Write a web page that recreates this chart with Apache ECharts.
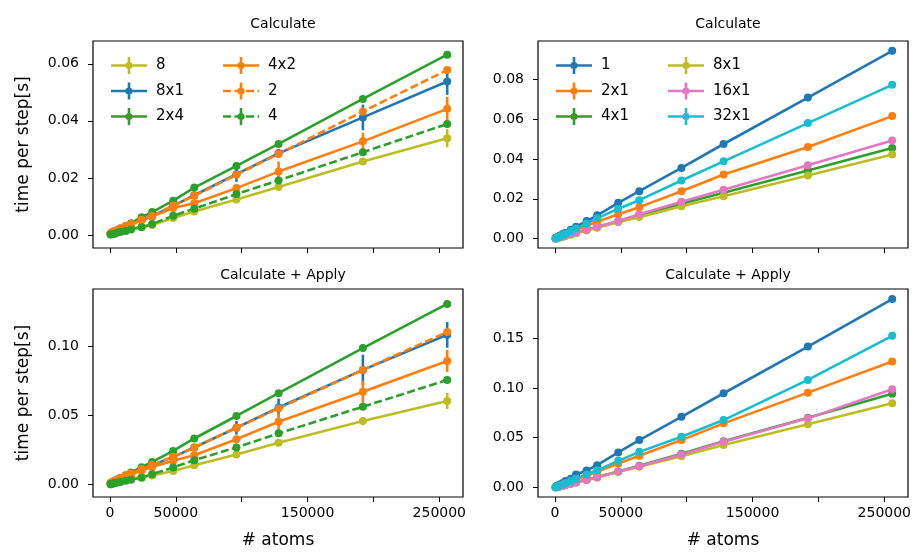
<!DOCTYPE html>
<html><head><meta charset="utf-8">
<script src="https://cdn.jsdelivr.net/npm/echarts@6/dist/echarts.min.js"></script>
<style>html,body{margin:0;padding:0;background:#fff}#c{width:916px;height:554px}</style>
</head><body><div id="c"></div>
<script>
// ---------- data ----------
const atoms = [500, 1000, 2000, 3000, 4000, 6000, 8000, 12000, 16000, 24000, 32000, 48000, 64000, 96000, 128000, 192000, 256000];
const xTicks = [0, 50000, 100000, 150000, 200000, 250000];
const xTickLabels = [0, 50000, 150000, 250000];

// Left column, "Calculate"
const calcL_names = ['8', '8x1', '2x4', '4x2', '2', '4'];
const calcL_8   = [0.0002,0.0003,0.0005,0.0006,0.0008,0.0011,0.0013,0.0018,0.0022,0.0028,0.0035,0.0059,0.0082,0.0124,0.0168,0.0257,0.0339];
const calcL_8x1 = [0.0004,0.0006,0.0008,0.0010,0.0012,0.0016,0.0020,0.0028,0.0036,0.0052,0.0066,0.0102,0.0139,0.0213,0.0286,0.0412,0.0538];
const calcL_2x4 = [0.0003,0.0005,0.0008,0.0010,0.0013,0.0018,0.0022,0.0031,0.0041,0.0062,0.0080,0.0120,0.0166,0.0242,0.0319,0.0477,0.0632];
const calcL_4x2 = [0.0005,0.0007,0.0010,0.0012,0.0014,0.0018,0.0022,0.0030,0.0037,0.0052,0.0064,0.0094,0.0111,0.0164,0.0222,0.0328,0.0442];
const calcL_2   = [0.0005,0.0007,0.0010,0.0012,0.0014,0.0018,0.0022,0.0030,0.0038,0.0053,0.0066,0.0103,0.0137,0.0211,0.0284,0.0433,0.0578];
const calcL_4   = [0.0001,0.0002,0.0003,0.0004,0.0005,0.0008,0.0010,0.0014,0.0019,0.0027,0.0038,0.0067,0.0092,0.0143,0.0191,0.0290,0.0389];
const calcLErr_8   = [0,0,0,0,0,0,0,0,0,0.0001,0.0001,0.0002,0.0003,0.0004,0.0006,0.0012,0.0032];
const calcLErr_8x1 = [0,0,0,0,0,0,0,0,0,0.0001,0.0002,0.0003,0.0008,0.0027,0.0015,0.0045,0.0047];
const calcLErr_2x4 = [0,0,0,0,0,0,0,0,0,0,0.0001,0.0002,0.0002,0.0003,0.0003,0.0004,0.0005];
const calcLErr_4x2 = [0,0,0,0,0,0,0,0,0,0.0001,0.0002,0.0003,0.0005,0.0015,0.0035,0.0030,0.0042];
const calcLErr_2   = [0,0,0,0,0,0,0,0,0,0,0.0001,0.0002,0.0002,0.0003,0.0003,0.0005,0.0008];
const calcLErr_4   = [0,0,0,0,0,0,0,0,0,0,0.0001,0.0001,0.0002,0.0002,0.0003,0.0004,0.0005];

// Left column, "Calculate + Apply"
const applyL_8   = [0.0003,0.0005,0.0008,0.0011,0.0014,0.0019,0.0024,0.0034,0.0043,0.0055,0.0066,0.0099,0.0140,0.0218,0.0303,0.0460,0.0606];
const applyL_8x1 = [0.0008,0.0012,0.0018,0.0023,0.0028,0.0037,0.0045,0.0062,0.0078,0.0110,0.0140,0.0201,0.0269,0.0412,0.0558,0.0831,0.1085];
const applyL_2x4 = [0.0007,0.0011,0.0017,0.0022,0.0028,0.0039,0.0049,0.0068,0.0088,0.0126,0.0164,0.0244,0.0334,0.0497,0.0662,0.0989,0.1309];
const applyL_4x2 = [0.0010,0.0014,0.0019,0.0023,0.0027,0.0035,0.0043,0.0058,0.0073,0.0102,0.0128,0.0172,0.0213,0.0329,0.0455,0.0673,0.0896];
const applyL_2   = [0.0009,0.0013,0.0019,0.0024,0.0029,0.0038,0.0047,0.0064,0.0080,0.0112,0.0142,0.0201,0.0269,0.0412,0.0552,0.0831,0.1105];
const applyL_4   = [0.0003,0.0005,0.0007,0.0009,0.0011,0.0015,0.0019,0.0027,0.0035,0.0050,0.0075,0.0124,0.0177,0.0269,0.0371,0.0564,0.0758];
const applyLErr_8   = [0,0,0,0,0,0,0,0,0,0.0001,0.0002,0.0003,0.0004,0.0006,0.0010,0.0030,0.0058];
const applyLErr_8x1 = [0,0,0,0,0,0,0,0,0,0.0002,0.0003,0.0005,0.0010,0.0050,0.0065,0.0110,0.0094];
const applyLErr_2x4 = [0,0,0,0,0,0,0,0,0,0.0001,0.0002,0.0003,0.0004,0.0005,0.0006,0.0008,0.0010];
const applyLErr_4x2 = [0,0,0,0,0,0,0,0,0,0.0002,0.0003,0.0005,0.0008,0.0020,0.0060,0.0080,0.0080];
const applyLErr_2   = [0,0,0,0,0,0,0,0,0,0.0001,0.0002,0.0003,0.0004,0.0006,0.0008,0.0010,0.0015];
const applyLErr_4   = [0,0,0,0,0,0,0,0,0,0.0001,0.0002,0.0002,0.0003,0.0004,0.0005,0.0007,0.0010];

// Right column, "Calculate"
const calcR_names = ['1', '2x1', '4x1', '8x1', '16x1', '32x1'];
const calcR_1    = [0.0002,0.0004,0.0008,0.0012,0.0016,0.0023,0.0030,0.0045,0.0060,0.0088,0.0117,0.0180,0.0238,0.0355,0.0475,0.0708,0.0943];
const calcR_2x1  = [0.0002,0.0003,0.0006,0.0008,0.0011,0.0016,0.0022,0.0032,0.0043,0.0064,0.0085,0.0122,0.0158,0.0238,0.0322,0.0460,0.0615];
const calcR_4x1  = [0.0001,0.0002,0.0004,0.0006,0.0008,0.0011,0.0015,0.0022,0.0029,0.0044,0.0058,0.0087,0.0117,0.0175,0.0230,0.0342,0.0455];
const calcR_8x1  = [0.0001,0.0002,0.0004,0.0005,0.0007,0.0010,0.0014,0.0020,0.0027,0.0041,0.0055,0.0082,0.0108,0.0163,0.0213,0.0317,0.0422];
const calcR_16x1 = [0.0001,0.0002,0.0004,0.0006,0.0008,0.0012,0.0016,0.0023,0.0031,0.0045,0.0060,0.0088,0.0122,0.0185,0.0245,0.0368,0.0493];
const calcR_32x1 = [0.0002,0.0003,0.0006,0.0009,0.0012,0.0018,0.0025,0.0038,0.0051,0.0076,0.0102,0.0150,0.0193,0.0292,0.0388,0.0580,0.0772];

// Right column, "Calculate + Apply"
const applyR_1    = [0.0008,0.0013,0.0019,0.0024,0.0034,0.0045,0.0065,0.0087,0.0131,0.0171,0.0224,0.0352,0.0476,0.0710,0.0946,0.1414,0.1891];
const applyR_2x1  = [0.0003,0.0006,0.0011,0.0016,0.0021,0.0031,0.0041,0.0060,0.0080,0.0118,0.0157,0.0241,0.0318,0.0476,0.0644,0.0952,0.1264];
const applyR_4x1  = [0.0002,0.0004,0.0007,0.0011,0.0014,0.0020,0.0027,0.0040,0.0054,0.0080,0.0105,0.0162,0.0219,0.0339,0.0465,0.0700,0.0942];
const applyR_8x1  = [0.0002,0.0004,0.0007,0.0010,0.0013,0.0019,0.0026,0.0038,0.0051,0.0076,0.0100,0.0155,0.0208,0.0315,0.0426,0.0634,0.0845];
const applyR_16x1 = [0.0002,0.0004,0.0007,0.0010,0.0013,0.0019,0.0026,0.0038,0.0051,0.0076,0.0101,0.0160,0.0214,0.0332,0.0459,0.0694,0.0986];
const applyR_32x1 = [0.0003,0.0006,0.0011,0.0016,0.0022,0.0033,0.0044,0.0066,0.0088,0.0131,0.0174,0.0268,0.0358,0.0509,0.0677,0.1080,0.1522];

// ---------- styling ----------
const C = {blue:'#1f77b4', orange:'#ff7f0e', green:'#2ca02c', pink:'#e377c2', olive:'#bcbd22', cyan:'#17becf'};
const FONT = 'DejaVu Sans';
const LW = 2.6;

const leftStyles  = [[C.olive,'solid'],[C.blue,'solid'],[C.green,'solid'],[C.orange,'solid'],[C.orange,[8,3.5]],[C.green,[8,3.5]]];
const rightStyles = [[C.blue,'solid'],[C.orange,'solid'],[C.green,'solid'],[C.olive,'solid'],[C.pink,'solid'],[C.cyan,'solid']];

const grids = [
  {left:93, top:41, width:370, height:207},
  {left:538, top:41, width:370, height:207},
  {left:93, top:289, width:370, height:208},
  {left:538, top:289, width:370, height:208}
];
const yRanges = [
  {min:-0.0046, max:0.068, ticks:[0,0.02,0.04,0.06]},
  {min:-0.0047, max:0.0992, ticks:[0,0.02,0.04,0.06,0.08]},
  {min:-0.009, max:0.1417, ticks:[0,0.05,0.10]},
  {min:-0.0095, max:0.1992, ticks:[0,0.05,0.10,0.15]}
];

const series = [];
function addPanel(gi, names, vals, errs, styles) {
  names.forEach((nm, i) => {
    const [col, dash] = styles[i];
    if (errs) {
      series.push({
        type:'custom', name:'err_'+gi+'_'+nm, xAxisIndex:gi, yAxisIndex:gi, silent:true,
        data: atoms.map((x,k)=>[x, vals[i][k], errs[i][k]]),
        renderItem: (params, api) => {
          const x = api.value(0), y = api.value(1), e = api.value(2);
          const p1 = api.coord([x, y - e]), p2 = api.coord([x, y + e]);
          return {type:'line', shape:{x1:p1[0], y1:p1[1], x2:p2[0], y2:p2[1]}, style:{stroke:col, lineWidth:LW}};
        },
        z: 2
      });
    }
    series.push({
      type:'line', name:nm, xAxisIndex:gi, yAxisIndex:gi,
      data: atoms.map((x,k)=>[x, vals[i][k]]),
      symbol:'circle', symbolSize:8, showSymbol:true,
      lineStyle:{color:col, width:LW, type:dash},
      itemStyle:{color:col, borderWidth:0},
      z: 2
    });
  });
}
addPanel(0, calcL_names, [calcL_8,calcL_8x1,calcL_2x4,calcL_4x2,calcL_2,calcL_4],
  [calcLErr_8,calcLErr_8x1,calcLErr_2x4,calcLErr_4x2,calcLErr_2,calcLErr_4], leftStyles);
addPanel(1, calcR_names, [calcR_1,calcR_2x1,calcR_4x1,calcR_8x1,calcR_16x1,calcR_32x1], null, rightStyles);
addPanel(2, calcL_names, [applyL_8,applyL_8x1,applyL_2x4,applyL_4x2,applyL_2,applyL_4],
  [applyLErr_8,applyLErr_8x1,applyLErr_2x4,applyLErr_4x2,applyLErr_2,applyLErr_4], leftStyles);
addPanel(3, calcR_names, [applyR_1,applyR_2x1,applyR_4x1,applyR_8x1,applyR_16x1,applyR_32x1], null, rightStyles);

const xAxes = grids.map((g, i) => ({
  type:'value', gridIndex:i, min:-12900, max:268000,
  splitLine:{show:false}, axisLine:{show:false, onZero:false},
  axisTick:{show:true, inside:false, length:5, customValues:xTicks, lineStyle:{color:'#000', width:1}},
  axisLabel:{show:i>=2, customValues:xTickLabels, margin:9, fontFamily:FONT, fontSize:14, color:'#000',
    formatter:v=>String(v)},
  name: i>=2 ? '# atoms' : '', nameLocation:'middle', nameGap:35,
  nameTextStyle:{fontFamily:FONT, fontSize:17, color:'#000'}
}));
const yAxes = grids.map((g, i) => ({
  type:'value', gridIndex:i, min:yRanges[i].min, max:yRanges[i].max,
  splitLine:{show:false}, axisLine:{show:false, onZero:false},
  axisTick:{show:true, inside:false, length:5, customValues:yRanges[i].ticks, lineStyle:{color:'#000', width:1}},
  axisLabel:{customValues:yRanges[i].ticks, margin:9, padding:[0,5,0,0], fontFamily:FONT, fontSize:14, color:'#000',
    formatter:v=>v.toFixed(2)},
  name: (i%2===0) ? 'time per step[s]' : '', nameLocation:'middle', nameGap:61, nameRotate:90,
  nameTextStyle:{fontFamily:FONT, fontSize:17, color:'#000'}
}));

// legend icons: line + error bar + circle marker (errorbar-style legend handle), 36x17 box
const BAR = 'M16.7,0h2.6v17h-2.6Z M14.4,8.5a3.6 3.6 0 1 1 7.2 0a3.6 3.6 0 1 1 -7.2 0Z';
const ICON_SOLID = 'path://M0,7.2h36v2.6h-36Z ' + BAR;
const ICON_DASH  = 'path://M0,7.2h8v2.6h-8Z M11.5,7.2h8v2.6h-8Z M23,7.2h8v2.6h-8Z M34.5,7.2h1.5v2.6h-1.5Z ' + BAR;

function legend(left, top, items) {
  return {
    left:left, top:top, orient:'vertical', data:items, itemWidth:36, itemHeight:17, itemGap:8.5,
    textStyle:{fontFamily:FONT, fontSize:15, color:'#000', padding:[0,0,0,4]},
    selectedMode:false
  };
}
function legendItems(names, styles) {
  return names.map((n, i) => ({
    name:n, icon: styles[i][1] === 'solid' ? ICON_SOLID : ICON_DASH,
    itemStyle:{color:styles[i][0], borderWidth:0}
  }));
}
const leftItems = legendItems(calcL_names, leftStyles);
const rightItems = legendItems(calcR_names, rightStyles);

const titleStyle = {fontFamily:FONT, fontSize:14, fontWeight:'normal', color:'#000'};
const option = {
  animation:false,
  backgroundColor:'#fff',
  title:[
    {text:'Calculate', left:278, top:12, textAlign:'center', textStyle:titleStyle},
    {text:'Calculate', left:723, top:12, textAlign:'center', textStyle:titleStyle},
    {text:'Calculate + Apply', left:278, top:263, textAlign:'center', textStyle:titleStyle},
    {text:'Calculate + Apply', left:723, top:263, textAlign:'center', textStyle:titleStyle}
  ],
  grid: grids.map(g => Object.assign({show:true, borderColor:'#000', borderWidth:1.2, backgroundColor:'transparent'}, g)),
  xAxis: xAxes,
  yAxis: yAxes,
  legend:[
    legend(106, 52, leftItems.slice(0,3)),
    legend(218, 52, leftItems.slice(3)),
    legend(551, 52, rightItems.slice(0,3)),
    legend(663, 52, rightItems.slice(3))
  ],
  series: series
};
const chart = echarts.init(document.getElementById('c'), null, {renderer:'canvas'});
chart.setOption(option);
</script></body></html>
